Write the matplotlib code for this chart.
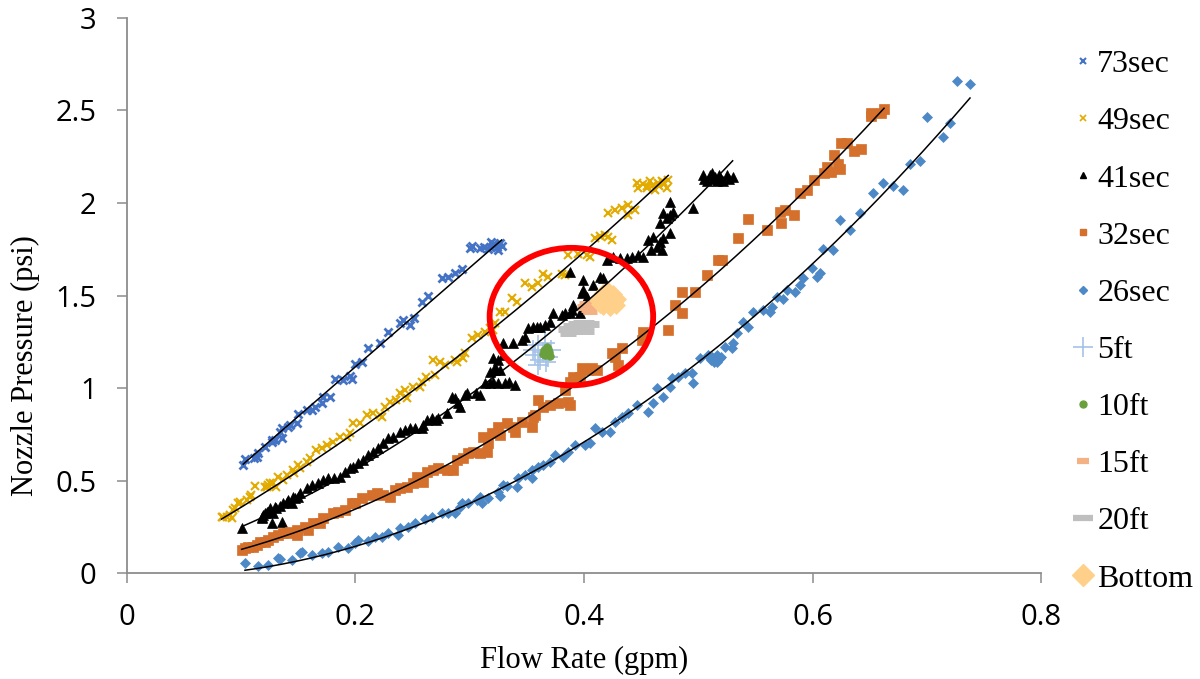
import numpy as np
import matplotlib
matplotlib.use("Agg")
import matplotlib.pyplot as plt
from matplotlib.patches import Ellipse
from matplotlib.lines import Line2D

# ---- measured data: flow rate (gpm) vs nozzle pressure (psi) ----
s73_x = [0.102, 0.1035, 0.111, 0.114, 0.115, 0.121, 0.127, 0.127, 0.130, 0.134, 0.136, 0.136,
         0.141, 0.143, 0.149, 0.150, 0.1575, 0.162, 0.165, 0.171, 0.172, 0.178, 0.182, 0.1895,
         0.195, 0.197, 0.200, 0.2056, 0.211, 0.2216, 0.229, 0.239, 0.242, 0.248, 0.251, 0.258,
         0.264, 0.2756, 0.281, 0.287, 0.293, 0.300, 0.302, 0.309, 0.313, 0.316, 0.318, 0.319,
         0.320, 0.322, 0.324, 0.325, 0.3266, 0.328]
s73_y = [0.584, 0.615, 0.620, 0.629, 0.647, 0.683, 0.710, 0.719, 0.720, 0.764, 0.728, 0.782,
         0.791, 0.800, 0.810, 0.860, 0.881, 0.881, 0.899, 0.917, 0.953, 0.953, 1.047, 1.043,
         1.065, 1.047, 1.130, 1.142, 1.218, 1.242, 1.304, 1.350, 1.368, 1.340, 1.377, 1.466,
         1.497, 1.593, 1.600, 1.620, 1.642, 1.755, 1.768, 1.755, 1.760, 1.750, 1.764, 1.790,
         1.780, 1.773, 1.760, 1.746, 1.782, 1.770]

s49_x = [0.083, 0.0846, 0.0875, 0.0904, 0.092, 0.0933, 0.0948, 0.0977, 0.0992, 0.105, 0.108,
         0.109, 0.112, 0.121, 0.1225, 0.124, 0.1254, 0.128, 0.131, 0.1327, 0.137, 0.140, 0.1458,
         0.146, 0.150, 0.1516, 0.1575, 0.1604, 0.166, 0.1706, 0.175, 0.1808, 0.1866, 0.1925,
         0.1954, 0.198, 0.204, 0.210, 0.2157, 0.2216, 0.223, 0.226, 0.2303, 0.236, 0.239, 0.2435,
         0.245, 0.2507, 0.2566, 0.258, 0.262, 0.270, 0.268, 0.274, 0.2785, 0.287, 0.2887, 0.2945,
         0.296, 0.302, 0.3076, 0.3134, 0.318, 0.3207, 0.322, 0.3266, 0.331, 0.3368, 0.341, 0.3484,
         0.3543, 0.360, 0.3644, 0.3688, 0.3805, 0.3834, 0.3863, 0.395, 0.4024, 0.4053, 0.4096,
         0.414, 0.418, 0.4212, 0.4242, 0.4212, 0.427, 0.433, 0.4387, 0.4387, 0.4446, 0.446,
         0.4475, 0.452, 0.455, 0.4548, 0.458, 0.4606, 0.462, 0.465, 0.466, 0.468, 0.4693, 0.470,
         0.4723, 0.4737]
s49_y = [0.301, 0.304, 0.304, 0.313, 0.296, 0.340, 0.350, 0.377, 0.385, 0.395, 0.412, 0.420,
         0.470, 0.463, 0.466, 0.476, 0.485, 0.485, 0.463, 0.520, 0.503, 0.530, 0.557, 0.539,
         0.584, 0.566, 0.602, 0.620, 0.665, 0.674, 0.692, 0.710, 0.737, 0.737, 0.755, 0.809,
         0.809, 0.854, 0.863, 0.854, 0.845, 0.899, 0.926, 0.935, 0.971, 0.989, 0.944, 1.007,
         1.007, 1.034, 1.061, 1.070, 1.151, 1.142, 1.124, 1.151, 1.142, 1.160, 1.188, 1.269,
         1.286, 1.304, 1.323, 1.314, 1.350, 1.412, 1.412, 1.485, 1.466, 1.566, 1.548, 1.566,
         1.616, 1.602, 1.616, 1.611, 1.719, 1.724, 1.719, 1.710, 1.809, 1.822, 1.827, 1.815,
         1.800, 1.944, 1.962, 1.971, 1.989, 1.935, 1.962, 2.106, 2.080, 2.100, 2.080, 2.092,
         2.120, 2.097, 2.070, 2.106, 2.090, 2.120, 2.115, 2.100, 2.080, 2.124]

s41_x = [0.1006, 0.118, 0.118, 0.1195, 0.121, 0.1225, 0.124, 0.1254, 0.127, 0.1283, 0.130,
         0.131, 0.134, 0.1356, 0.137, 0.140, 0.1414, 0.1444, 0.1458, 0.1473, 0.150, 0.1516,
         0.1575, 0.162, 0.1677, 0.172, 0.1764, 0.181, 0.1866, 0.191, 0.1954, 0.198, 0.2026,
         0.207, 0.211, 0.2157, 0.220, 0.2245, 0.229, 0.2332, 0.239, 0.2435, 0.248, 0.2522,
         0.258, 0.2595, 0.2624, 0.2668, 0.271, 0.2726, 0.280, 0.2843, 0.287, 0.290, 0.2916,
         0.296, 0.2974, 0.306, 0.309, 0.3134, 0.318, 0.3207, 0.325, 0.331, 0.334, 0.3397,
         0.318, 0.322, 0.3266, 0.322, 0.3207, 0.325, 0.329, 0.329, 0.338, 0.3455, 0.3484,
         0.3513, 0.3557, 0.3586, 0.3615, 0.366, 0.370, 0.373, 0.3805, 0.3834, 0.3878, 0.3892,
         0.3906, 0.3965, 0.388, 0.398, 0.3994, 0.3994, 0.4024, 0.408, 0.414, 0.417, 0.420,
         0.4256, 0.4315, 0.4373, 0.4417, 0.4475, 0.452, 0.456, 0.459, 0.4606, 0.4636, 0.4665,
         0.468, 0.4694, 0.4752, 0.4665, 0.4723, 0.4752, 0.4694, 0.478, 0.4752, 0.4956,
         0.504, 0.505, 0.508, 0.510, 0.512, 0.513, 0.515, 0.516, 0.518, 0.520, 0.522, 0.525,
         0.527, 0.530]
s41_y = [0.241, 0.296, 0.304, 0.313, 0.323, 0.331, 0.331, 0.350, 0.272, 0.323, 0.358, 0.350,
         0.362, 0.277, 0.377, 0.385, 0.395, 0.377, 0.412, 0.404, 0.412, 0.431, 0.458, 0.476,
         0.485, 0.503, 0.512, 0.512, 0.521, 0.548, 0.566, 0.575, 0.593, 0.611, 0.638, 0.656,
         0.674, 0.701, 0.728, 0.737, 0.764, 0.773, 0.782, 0.782, 0.782, 0.800, 0.827, 0.836,
         0.827, 0.836, 0.863, 0.953, 0.944, 0.917, 0.899, 0.962, 0.971, 0.971, 0.962, 1.025,
         1.025, 1.034, 1.025, 1.025, 1.034, 1.016, 1.088, 1.097, 1.097, 1.115, 1.160, 1.151,
         1.178, 1.242, 1.242, 1.259, 1.277, 1.323, 1.331, 1.331, 1.331, 1.340, 1.358, 1.404,
         1.395, 1.404, 1.404, 1.422, 1.449, 1.404, 1.629, 1.512, 1.584, 1.530, 1.494, 1.557,
         1.602, 1.593, 1.692, 1.710, 1.701, 1.701, 1.710, 1.719, 1.710, 1.800, 1.746, 1.818,
         1.764, 1.791, 1.746, 1.809, 1.836, 1.890, 1.917, 1.935, 1.944, 1.953, 2.007, 1.971,
         2.150, 2.130, 2.120, 2.150, 2.160, 2.130, 2.140, 2.120, 2.150, 2.130, 2.120, 2.150,
         2.130, 2.140]

s32_x = [0.1006, 0.1035, 0.1064, 0.1108, 0.1138, 0.1167, 0.121, 0.124, 0.128, 0.1327, 0.137,
         0.140, 0.1429, 0.1488, 0.1488, 0.156, 0.159, 0.163, 0.169, 0.172, 0.1808, 0.185, 0.191,
         0.1968, 0.1997, 0.2056, 0.2143, 0.2187, 0.2245, 0.2303, 0.2347, 0.239, 0.245, 0.2507,
         0.2537, 0.2566, 0.2595, 0.2624, 0.268, 0.2726, 0.280, 0.2857, 0.2887, 0.2945, 0.2988,
         0.3032, 0.309, 0.312, 0.315, 0.3163, 0.3193, 0.325, 0.3266, 0.3324, 0.3382, 0.3397,
         0.3455, 0.3543, 0.3557, 0.357, 0.360, 0.3644, 0.370, 0.3775, 0.3834, 0.3863, 0.3878,
         0.3878, 0.3906, 0.3965, 0.398, 0.4038, 0.4067, 0.411, 0.4242, 0.427, 0.430, 0.433,
         0.4505, 0.452, 0.4737, 0.4796, 0.4854, 0.4854, 0.497, 0.508, 0.5175, 0.5204, 0.5345,
         0.5433, 0.560, 0.5717, 0.572, 0.5754, 0.5833, 0.5893, 0.595, 0.601, 0.6096, 0.6125,
         0.616, 0.619, 0.622, 0.6242, 0.6245, 0.6303, 0.6361, 0.642, 0.6507, 0.6507, 0.6595,
         0.6624]
s32_y = [0.124, 0.133, 0.142, 0.142, 0.151, 0.169, 0.169, 0.178, 0.196, 0.205, 0.214, 0.214,
         0.223, 0.232, 0.205, 0.250, 0.232, 0.269, 0.269, 0.296, 0.323, 0.331, 0.340, 0.377,
         0.380, 0.404, 0.422, 0.431, 0.422, 0.412, 0.449, 0.458, 0.466, 0.485, 0.521, 0.503,
         0.494, 0.548, 0.557, 0.566, 0.557, 0.557, 0.611, 0.620, 0.647, 0.656, 0.647, 0.737,
         0.656, 0.701, 0.755, 0.791, 0.746, 0.809, 0.791, 0.764, 0.818, 0.791, 0.845, 0.854,
         0.935, 0.899, 0.908, 0.917, 0.989, 0.926, 0.908, 1.034, 1.061, 1.061, 1.107, 1.097,
         1.107, 1.097, 1.188, 1.169, 1.124, 1.215, 1.259, 1.304, 1.314, 1.449, 1.404, 1.520,
         1.520, 1.611, 1.694, 1.692, 1.809, 1.914, 1.856, 1.953, 1.890, 1.964, 1.933, 2.055,
         2.070, 2.122, 2.160, 2.195, 2.169, 2.258, 2.209, 2.185, 2.326, 2.326, 2.281, 2.292,
         2.485, 2.470, 2.488, 2.506]

s26_x = [0.1035, 0.1152, 0.124, 0.1327, 0.134, 0.1444, 0.1516, 0.1531, 0.162, 0.1706, 0.1764,
         0.1851, 0.1939, 0.1997, 0.2026, 0.2114, 0.2172, 0.223, 0.2289, 0.2376, 0.239, 0.2463,
         0.2522, 0.261, 0.2668, 0.2756, 0.2813, 0.2872, 0.2916, 0.293, 0.2988, 0.3062, 0.309,
         0.3105, 0.3163, 0.325, 0.3266, 0.3294, 0.3324, 0.3411, 0.3426, 0.3484, 0.3543, 0.3543,
         0.360, 0.3644, 0.370, 0.3746, 0.3819, 0.3863, 0.3921, 0.4009, 0.4053, 0.4096, 0.4155,
         0.4227, 0.4271, 0.433, 0.4387, 0.446, 0.4562, 0.4606, 0.4636, 0.4694, 0.4752, 0.4767,
         0.4825, 0.4883, 0.4942, 0.4956, 0.5015, 0.5087, 0.510, 0.511, 0.5117, 0.512, 0.514,
         0.515, 0.516, 0.516, 0.518, 0.519, 0.520, 0.5233, 0.5292, 0.5306, 0.5335, 0.5394,
         0.5437, 0.548, 0.5568, 0.5627, 0.5641, 0.5685, 0.5743, 0.5773, 0.5845, 0.589, 0.5918,
         0.5991, 0.6035, 0.6064, 0.6093, 0.618, 0.6239, 0.6327, 0.6414, 0.653, 0.6618, 0.6705,
         0.6792, 0.685, 0.6938, 0.6997, 0.7142, 0.720, 0.7259, 0.7376]
s26_y = [0.052, 0.040, 0.043, 0.079, 0.074, 0.070, 0.106, 0.112, 0.097, 0.106, 0.115, 0.142,
         0.133, 0.160, 0.178, 0.173, 0.196, 0.193, 0.214, 0.205, 0.241, 0.250, 0.272, 0.290,
         0.304, 0.326, 0.323, 0.326, 0.358, 0.377, 0.380, 0.395, 0.409, 0.377, 0.404, 0.440,
         0.416, 0.476, 0.470, 0.466, 0.512, 0.530, 0.512, 0.557, 0.575, 0.584, 0.602, 0.638,
         0.629, 0.656, 0.692, 0.692, 0.701, 0.782, 0.764, 0.764, 0.818, 0.845, 0.863, 0.908,
         0.872, 0.917, 0.998, 0.953, 1.007, 1.052, 1.061, 1.079, 1.079, 1.025, 1.160, 1.178,
         1.160, 1.150, 1.160, 1.170, 1.140, 1.150, 1.142, 1.180, 1.160, 1.160, 1.170, 1.223,
         1.215, 1.242, 1.296, 1.358, 1.331, 1.412, 1.422, 1.412, 1.440, 1.494, 1.481, 1.530,
         1.520, 1.557, 1.593, 1.647, 1.602, 1.620, 1.751, 1.746, 1.908, 1.854, 1.944, 2.052,
         2.106, 2.094, 2.070, 2.211, 2.229, 2.463, 2.358, 2.434, 2.661, 2.643]

# second-order trendline coefficients (a, b, c for a*x^2 + b*x + c)
trend_73 = [0.0, 5.36, 0.042]
trend_49 = [2.73, 3.235, 0.004]
trend_41 = [4.50, 1.768, 0.027]
trend_32 = [4.454, 0.845, -0.002]
trend_26 = [5.0, -0.18, -0.02]

ft5_x = [0.3554, 0.3598, 0.3641, 0.3685, 0.3615, 0.3571, 0.3659, 0.3711, 0.3598, 0.3667]
ft5_y = [1.205, 1.232, 1.195, 1.168, 1.151, 1.178, 1.243, 1.205, 1.124, 1.141]

ft10_x = [0.3650, 0.3676, 0.3694, 0.3659, 0.3703, 0.3667, 0.3685, 0.3641]
ft10_y = [1.205, 1.222, 1.195, 1.178, 1.173, 1.189, 1.211, 1.184]

ft15_x = [0.4000, 0.4035, 0.4070, 0.4017, 0.4053]
ft15_y = [1.438, 1.427, 1.443, 1.454, 1.416]

ft20_x = [0.3843, 0.3886, 0.3930, 0.3974, 0.4017, 0.4061, 0.3860, 0.3913, 0.3965, 0.4017]
ft20_y = [1.319, 1.335, 1.346, 1.351, 1.351, 1.346, 1.297, 1.308, 1.314, 1.308]

bottom_x = [0.4122, 0.4166, 0.4210, 0.4253, 0.4288, 0.4280, 0.4227, 0.4166, 0.4201, 0.4236,
            0.4140, 0.4262]
bottom_y = [1.476, 1.514, 1.524, 1.508, 1.481, 1.449, 1.438, 1.443, 1.476, 1.486, 1.454, 1.465]

# ---- styling ----
C73, C49, C41, C32, C26 = "#4472C4", "#E3AA00", "#000000", "#D4702C", "#4D89C7"
C5, C10, C15, C20, CB = "#A4C2E8", "#6A9F3E", "#F4B183", "#BFBFBF", "#FFD08A"
AXIS_GREY = "#8C8C8C"

fig = plt.figure(figsize=(12, 6.79), dpi=100)
ax = fig.add_axes([0.1055, 0.1561, 0.7623, 0.8174])

timed = [
    ("73sec", s73_x, s73_y, trend_73, dict(marker="x", ms=6, mew=2.0, color=C73)),
    ("49sec", s49_x, s49_y, trend_49, dict(marker="x", ms=6, mew=1.5, color=C49)),
    ("41sec", s41_x, s41_y, trend_41, dict(marker="^", ms=7, mew=0.5, color=C41)),
    ("32sec", s32_x, s32_y, trend_32, dict(marker="s", ms=6.5, mew=0.5, color=C32)),
    ("26sec", s26_x, s26_y, trend_26, dict(marker="D", ms=4.8, mew=0.5, color=C26)),
]
for name, xs, ys, coef, st in timed:
    ax.plot(xs, ys, linestyle="none", zorder=2, **st)

depth = [
    ("5ft", ft5_x, ft5_y, dict(marker="+", ms=14, mew=1.2, color=C5)),
    ("10ft", ft10_x, ft10_y, dict(marker="o", ms=5.5, mew=0.5, color=C10)),
    ("15ft", ft15_x, ft15_y, dict(marker="_", ms=10, mew=5, color=C15)),
    ("20ft", ft20_x, ft20_y, dict(marker="_", ms=11, mew=5, color=C20)),
    ("Bottom", bottom_x, bottom_y, dict(marker="D", ms=9, mew=0.5, color=CB)),
]
for name, xs, ys, st in depth:
    ax.plot(xs, ys, linestyle="none", zorder=2, **st)

# trendlines over each timed run's measured flow range
for name, xs, ys, coef, st in timed:
    xf = np.linspace(min(xs), max(xs), 200)
    ax.plot(xf, np.polyval(coef, xf), color="black", lw=1.1, zorder=3)

# highlight the depth-test cluster
ax.add_patch(Ellipse((0.389, 1.386), 0.143, 0.743, fill=False, ec="#FF0000", lw=4.2, zorder=5))

ax.set_xlim(0, 0.8)
ax.set_ylim(0, 3)
ax.set_xticks([0, 0.2, 0.4, 0.6, 0.8])
ax.set_xticklabels(["0", "0.2", "0.4", "0.6", "0.8"])
ax.set_yticks([0, 0.5, 1, 1.5, 2, 2.5, 3])
ax.set_yticklabels(["0", "0.5", "1", "1.5", "2", "2.5", "3"])

for side in ("top", "right"):
    ax.spines[side].set_visible(False)
for side in ("left", "bottom"):
    ax.spines[side].set_color(AXIS_GREY)
    ax.spines[side].set_linewidth(1.3)
ax.tick_params(direction="out", length=7.5, width=1.1, color=AXIS_GREY, pad=14,
               labelsize=21, labelcolor="black")
for lbl in ax.get_xticklabels() + ax.get_yticklabels():
    lbl.set_fontfamily("Open Sans")

ax.set_xlabel("Flow Rate (gpm)", family="Liberation Serif", fontsize=22, va="center")
ax.xaxis.set_label_coords(0.5, -0.157)
ax.set_ylabel("Nozzle Pressure (psi)", family="Liberation Serif", fontsize=22, va="center")
ax.yaxis.set_label_coords(-0.111, 0.373)

handles = [
    Line2D([], [], linestyle="none", marker="x", ms=4, mew=1.5, color=C73),
    Line2D([], [], linestyle="none", marker="x", ms=4, mew=1.2, color=C49),
    Line2D([], [], linestyle="none", marker="^", ms=5, color=C41),
    Line2D([], [], linestyle="none", marker="s", ms=5, color=C32),
    Line2D([], [], linestyle="none", marker="D", ms=4, color=C26),
    Line2D([], [], linestyle="none", marker="+", ms=14, mew=1.2, color=C5),
    Line2D([], [], linestyle="none", marker="o", ms=5, color=C10),
    Line2D([], [], linestyle="none", marker="_", ms=9, mew=4.5, color=C15),
    Line2D([], [], linestyle="none", marker="_", ms=14, mew=4.5, color=C20),
    Line2D([], [], linestyle="none", marker="D", ms=11, color=CB),
]
labels = ["73sec", "49sec", "41sec", "32sec", "26sec", "5ft", "10ft", "15ft", "20ft", "Bottom"]
fig.legend(handles, labels, loc="upper left", bbox_to_anchor=(0.8917, 0.9266),
           frameon=False, prop=dict(family="Liberation Serif", size=23),
           handlelength=0.8, handletextpad=0.05, labelspacing=0.87,
           borderpad=0, borderaxespad=0)

fig.savefig("out.png", dpi=100)
